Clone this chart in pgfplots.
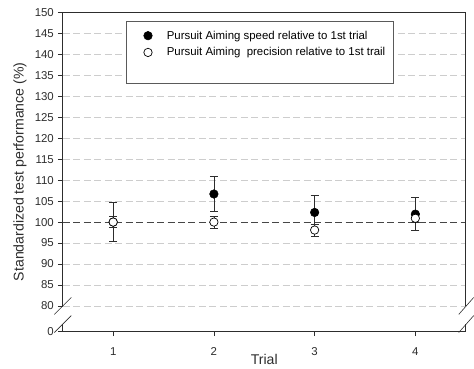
\documentclass[border=0pt]{standalone}
\usepackage{fontspec}
\setmainfont{Liberation Sans}
\usepackage{pgfplots}
\usepackage{pgfplotstable}
\pgfplotsset{compat=1.18}
\definecolor{gridgray}{RGB}{205,205,205}
\definecolor{axgray}{RGB}{45,45,45}
\definecolor{refline}{RGB}{70,70,70}
\definecolor{boxgray}{RGB}{90,90,90}

\pgfplotstableread{
x y e
1 100.0 4.6
2 106.7 4.1
3 102.3 4.1
4 101.9 3.9
}\speed
\pgfplotstableread{
x y e
1 100.0 1.3
2 100.0 1.4
3 98.1 1.4
4 100.9 1.0
}\precision

\begin{document}
\begin{tikzpicture}
\begin{axis}[
  scale only axis, width=404bp, height=319.5bp,
  xmin=0.5, xmax=4.5, ymin=74, ymax=150,
  axis line style={draw=none},
  clip=false,
  xtick={1,2,3,4}, xtick pos=bottom,
  ytick={80,85,...,150}, ytick pos=left,
  extra y ticks={74}, extra y tick labels={0},
  extra y tick style={grid=none},
  ymajorgrids,
  grid style={gridgray, dash pattern=on 7bp off 3.5bp, line width=0.8pt},
  tick align=outside, major tick length=5bp,
  tick style={axgray, line width=0.7pt},
  /pgf/number format/assume math mode=true,
  ticklabel style={font=\fontsize{11.5}{13}\selectfont, text=axgray},
  yticklabel style={xshift=-0.5bp},
  xticklabel style={yshift=-8bp},
  xlabel={Trial}, ylabel={Standardized test performance (\%)},
  label style={font=\fontsize{14.2}{16}\selectfont, text=axgray},
  xlabel style={at={(rel axis cs:0.5,0)}, anchor=center, yshift=-28.5bp},
  ylabel style={at={(rel axis cs:-0.1064,0.5)}, anchor=center},
  legend style={draw=none, fill=none, at={(rel axis cs:0.1998,0.954)}, anchor=north west,
    inner sep=0pt, font=\fontsize{11.5}{13}\selectfont,
    nodes={inner ysep=3.5bp}},
  legend cell align=left,
  legend image code/.code={\path (0bp,0bp) (21bp,0bp); \draw[#1] plot coordinates {(4.3bp,0bp)};},
]
\coordinate (BL) at (rel axis cs:0,0);
\coordinate (TR) at (rel axis cs:1,1);
% reference line at 100
\addplot[forget plot, refline, dash pattern=on 7bp off 3.5bp, line width=0.9pt] coordinates {(0.5,100) (4.5,100)};
% frame with broken axis
\draw[axgray, line width=0.8pt] (axis cs:0.5,80) -- (axis cs:0.5,150) -- (axis cs:4.5,150) -- (axis cs:4.5,80);
\draw[axgray, line width=0.8pt] (axis cs:0.5,75.67) -- (axis cs:0.5,74) -- (axis cs:4.5,74) -- (axis cs:4.5,75.67);
\draw[axgray, line width=0.6pt] (axis cs:0.5,80) ++(-8.5bp,-8.5bp) -- ++(17bp,17bp);
\draw[axgray, line width=0.6pt] (axis cs:0.5,75.67) ++(-8.5bp,-8.5bp) -- ++(17bp,17bp);
\draw[axgray, line width=0.6pt] (axis cs:4.5,80) ++(-7bp,-8.5bp) -- ++(15bp,17bp);
\draw[axgray, line width=0.6pt] (axis cs:4.5,75.67) ++(-7bp,-8.5bp) -- ++(15bp,17bp);
% legend box
\draw[boxgray, fill=white, line width=0.8pt] (rel axis cs:0.1584,0.9725) rectangle (rel axis cs:0.821,0.777);

\addplot[only marks, mark=*, mark size=4.3bp, mark options={fill=black, draw=black, line width=0.5pt},
  error bars/.cd, y dir=both, y explicit,
  error bar style={line width=0.8pt, axgray},
  error mark options={rotate=90, mark size=4bp, line width=0.8pt, axgray}]
  table[x=x, y=y, y error=e] {\speed};
\addlegendentry{Pursuit Aiming speed relative to 1st trial}
\addplot[only marks, mark=*, mark size=4.2bp, mark options={fill=white, draw=black, line width=0.7pt},
  error bars/.cd, y dir=both, y explicit,
  error bar style={line width=0.8pt, axgray},
  error mark options={rotate=90, mark size=4bp, line width=0.8pt, axgray}]
  table[x=x, y=y, y error=e] {\precision};
\addlegendentry{Pursuit Aiming\ \ precision relative to 1st trail}
\end{axis}
\path ([shift={(-63bp,-37bp)}]BL) rectangle ([shift={(7bp,12.5bp)}]TR);
\end{tikzpicture}
\end{document}
